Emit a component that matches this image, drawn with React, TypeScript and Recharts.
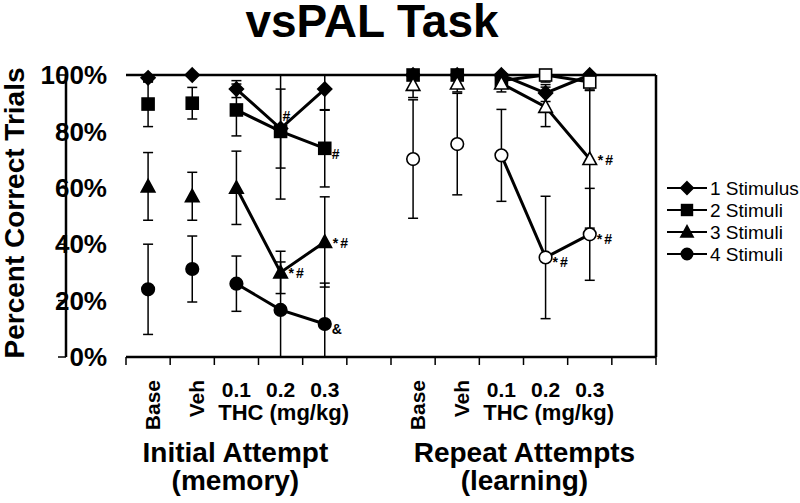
import React from 'react';
import { LineChart, Line, XAxis, YAxis, ErrorBar, LabelList, ReferenceLine } from 'recharts';

const FONT = '"Liberation Sans", Arial, Helvetica, sans-serif';

// ---------- data ----------
const doses = ['Base', 'Veh', '0.1', '0.2', '0.3'];
const doseAxisTitle = 'THC (mg/kg)';
const groupTitles = [
  ['Initial Attempt', '(memory)'],
  ['Repeat Attempts', '(learning)'],
];
const seriesNames = ['1 Stimulus', '2 Stimuli', '3 Stimuli', '4 Stimuli'];
const yTicks = [0, 20, 40, 60, 80, 100];
const xBoundaries = [0, 1, 2, 3, 4, 5, 6, 7, 8, 9, 10, 11, 12];

// Initial attempt (memory): mean % correct and error
const initial1 = [99, 100, 95, 81, 95];
const initial1Err = [1.5, 0, 3, 14, 7.5];
const initial2 = [89.7, 90, 87.6, 80, 74];
const initial2Err = [8, 5.6, 9.2, 24, 13.7];
const initial3 = [60.5, 57, 60, 30, 40.8];
const initial3Err = [12, 8.5, 13, 7.5, 16];
const initial4 = [24, 31.2, 26, 16.7, 11.7];
const initial4Err = [16, 11.7, 9.8, 17, 14.5];

// Repeat attempts (learning)
const repeat1 = [100, 100, 100, 93.6, 100];
const repeat1Err = [0, 0, 0, 3, 0];
const repeat2 = [100, 100, 98, 100, 97.5];
const repeat2Err = [0, 0, 1.5, 2.5, 3];
const repeat3 = [96.5, 97, 97, 88.7, 70.2];
const repeat3Err = [4.5, 3, 3, 7, 24.5];
const repeat4 = [70.2, 75.5, 71.5, 35.3, 43.5];
const repeat4Err = [21, 18, 16.3, 21.7, 16.3];

// significance notes
const initialNotes = [
  ['', '', '', '#', ''],
  ['', '', '', '', '#'],
  ['', '', '', '*#', '*#'],
  ['', '', '', '', '&'],
];
const repeatNotes = [
  ['', '', '', '', ''],
  ['', '', '', '', ''],
  ['', '', '', '', '*#'],
  ['', '', '', '*#', '*#'],
];

const initialMeans = [initial1, initial2, initial3, initial4];
const initialErrs = [initial1Err, initial2Err, initial3Err, initial4Err];
const repeatMeans = [repeat1, repeat2, repeat3, repeat4];
const repeatErrs = [repeat1Err, repeat2Err, repeat3Err, repeat4Err];

const shapes = ['diamond', 'square', 'triangle', 'circle'];
const Y_MIN = 0;
const Y_MAX = 100;

// layout constants
const Y_AXIS_WIDTH = 126;
const Y_TICK_LEN = 8;
const Y_TICK_GAP = 11;

// build rows: 12 slots (5 doses + gap) x 2 groups
const rows: any[] = [];
for (let i = 0; i < 12; i++) {
  const g = i < 6 ? 0 : 1;
  const j = i % 6;
  const row: any = { x: i + 0.5, group: g, dose: j };
  if (j < doses.length) {
    const means = g === 0 ? initialMeans : repeatMeans;
    const errs = g === 0 ? initialErrs : repeatErrs;
    const notes = g === 0 ? initialNotes : repeatNotes;
    for (let k = 0; k < 4; k++) {
      const m = means[k][j];
      const e = errs[k][j];
      row[`s${k}`] = m;
      // error bars are cut at the plot frame (0% .. 100%)
      row[`e${k}`] = [Math.min(e, m - Y_MIN), Math.min(e, Y_MAX - m)];
      row[`c${k}`] = j >= 2 ? m : null;
      row[`n${k}`] = notes[k][j];
    }
  }
  rows.push(row);
}

// ---------- marks ----------
function Marker({ shape, cx, cy, filled, s = 1 }: any) {
  const fill = filled ? '#000' : '#fff';
  const sw = 1.6;
  if (shape === 'diamond') {
    const h = 7 * s;
    return <polygon points={`${cx},${cy - h} ${cx + h},${cy} ${cx},${cy + h} ${cx - h},${cy}`} fill={fill} stroke="#000" strokeWidth={sw} />;
  }
  if (shape === 'square') {
    const h = 6 * s;
    return <rect x={cx - h} y={cy - h} width={2 * h} height={2 * h} fill={fill} stroke="#000" strokeWidth={sw} />;
  }
  if (shape === 'triangle') {
    const w = 6.8 * s;
    const up = 7 * s;
    const dn = 5.5 * s;
    return <polygon points={`${cx},${cy - up} ${cx + w},${cy + dn} ${cx - w},${cy + dn}`} fill={fill} stroke="#000" strokeWidth={sw} />;
  }
  return <circle cx={cx} cy={cy} r={6.3 * s} fill={fill} stroke="#000" strokeWidth={sw} />;
}

const makeDot = (k: number) => (props: any) => {
  const { cx, cy, payload, index } = props;
  if (cx == null || cy == null || payload == null || payload[`s${k}`] == null) return <g key={`d${k}-${index}`} />;
  const shape = shapes[k];
  let filled = payload.group === 0;
  if (shape === 'diamond') filled = true;
  if (shape === 'square' && payload.group === 1 && payload.dose < 3) filled = true;
  return (
    <g key={`d${k}-${index}`}>
      <Marker shape={shape} cx={cx} cy={cy} filled={filled} />
    </g>
  );
};

const noteOffsets = [
  [2, -8],
  [7, 11],
  [8, 6],
  [7, 10],
];

const makeNote = (k: number) => (props: any) => {
  const { x, y, value, index } = props;
  if (!value || x == null || y == null) return <g key={`n${k}-${index}`} />;
  return (
    <text key={`n${k}-${index}`} x={x + noteOffsets[k][0]} y={y + noteOffsets[k][1]} fontFamily={FONT} fontWeight="bold" fontSize={14} letterSpacing={value.length > 1 ? 2 : 0} fill="#000">
      {value}
    </text>
  );
};

const groupShift = [-1, 23];

const DoseTick = (props: any) => {
  const { x, y, payload } = props;
  const i = Math.floor(payload.value);
  const g = i < 6 ? 0 : 1;
  const j = i % 6;
  if (j >= doses.length) return <g />;
  const label = doses[j];
  const common = { fontFamily: FONT, fontWeight: 'bold' as const, fill: '#000' };
  return (
    <g>
      {j < 2 ? (
        <text transform={`translate(${x + 12},${y + 13}) rotate(-90)`} textAnchor="end" fontSize={21} {...common}>
          {label}
        </text>
      ) : (
        <text x={x} y={y + 30} textAnchor="middle" fontSize={21} {...common}>
          {label}
        </text>
      )}
      {j === 3 && (
        <text x={x + 3} y={y + 53} textAnchor="middle" fontSize={22} {...common}>
          {doseAxisTitle}
        </text>
      )}
      {j === 2 && (
        <>
          <text x={x + groupShift[g]} y={y + 95} textAnchor="middle" fontSize={28} {...common}>
            {groupTitles[g][0]}
          </text>
          <text x={x + groupShift[g]} y={y + 123} textAnchor="middle" fontSize={28} {...common}>
            {groupTitles[g][1]}
          </text>
        </>
      )}
    </g>
  );
};

const PercentTick = (props: any) => {
  const { y, payload } = props;
  return (
    <text x={Y_AXIS_WIDTH - Y_TICK_LEN - Y_TICK_GAP} y={y} dy="0.355em" textAnchor="end" fontFamily={FONT} fontWeight="bold" fontSize={26} fill="#000">
      {`${payload.value}%`}
    </text>
  );
};

const YTitle = (props: any) => {
  const vb = props.viewBox || { x: 0, y: 75, width: 126, height: 282 };
  const cy = vb.y + vb.height / 2 - 3;
  return (
    <text transform={`translate(24,${cy}) rotate(-90)`} textAnchor="middle" fontFamily={FONT} fontWeight="bold" fontSize={28} fill="#000">
      Percent Correct Trials
    </text>
  );
};

function LegendBox() {
  return (
    <svg width={140} height={95} style={{ position: 'absolute', left: 660, top: 176 }}>
      {seriesNames.map((name, k) => {
        const cy = 12 + 22 * k;
        return (
          <g key={name}>
            <line x1={7} y1={cy} x2={47} y2={cy} stroke="#000" strokeWidth={2} />
            <Marker shape={shapes[k]} cx={27} cy={cy} filled s={0.9} />
            <text x={50} y={cy + 6.5} fontFamily={FONT} fontSize={19} fill="#000">
              {name}
            </text>
          </g>
        );
      })}
    </svg>
  );
}

export default function App() {
  return (
    <div style={{ position: 'absolute', left: 0, top: 0, width: 800, height: 503, background: '#fff' }}>
      <svg width={800} height={60} style={{ position: 'absolute', left: 0, top: 0 }}>
        <text x={372} y={37} textAnchor="middle" fontFamily={FONT} fontWeight="bold" fontSize={46} fill="#000">
          vsPAL Task
        </text>
      </svg>
      <LineChart width={800} height={503} data={rows} margin={{ top: 75, right: 144, bottom: 0, left: 0 }}>
        <XAxis
          xAxisId="b"
          type="number"
          dataKey="x"
          domain={[0, 12]}
          ticks={xBoundaries}
          interval={0}
          tickFormatter={() => ''}
          tickSize={8}
          height={10}
          axisLine={{ stroke: '#000', strokeWidth: 2.5 }}
          tickLine={{ stroke: '#000', strokeWidth: 1.5 }}
        />
        <XAxis
          xAxisId="lbl"
          type="number"
          dataKey="x"
          domain={[0, 12]}
          ticks={rows.map((r) => r.x)}
          interval={0}
          axisLine={false}
          tickLine={false}
          tickSize={0}
          tickMargin={0}
          height={136}
          tick={DoseTick}
        />
        <YAxis
          yAxisId="main"
          type="number"
          domain={[Y_MIN, Y_MAX]}
          allowDataOverflow
          ticks={yTicks}
          interval={0}
          width={Y_AXIS_WIDTH}
          tickSize={Y_TICK_LEN}
          tickMargin={Y_TICK_GAP}
          tick={PercentTick}
          axisLine={{ stroke: '#000', strokeWidth: 2.5 }}
          tickLine={{ stroke: '#000', strokeWidth: 1.5 }}
          label={<YTitle />}
        />
        <YAxis yAxisId="dots" type="number" domain={[Y_MIN, Y_MAX]} hide />
        <ReferenceLine xAxisId="b" yAxisId="main" y={100} stroke="#000" strokeWidth={2.5} />
        <ReferenceLine xAxisId="b" yAxisId="main" x={12} stroke="#000" strokeWidth={2.5} />

        {[0, 1, 2, 3].map((k) => (
          <Line
            key={`err${k}`}
            xAxisId="b"
            yAxisId="main"
            dataKey={`s${k}`}
            stroke="none"
            dot={false}
            activeDot={false}
            legendType="none"
            isAnimationActive={false}
          >
            <ErrorBar dataKey={`e${k}`} width={5} stroke="#000" strokeWidth={1.5} direction="y" />
          </Line>
        ))}
        {[0, 1, 2, 3].map((k) => (
          <Line
            key={`con${k}`}
            xAxisId="b"
            yAxisId="dots"
            dataKey={`c${k}`}
            stroke="#000"
            strokeWidth={3}
            dot={false}
            activeDot={false}
            connectNulls={false}
            isAnimationActive={false}
          />
        ))}
        {[0, 1, 2, 3].map((k) => (
          <Line
            key={`mk${k}`}
            xAxisId="b"
            yAxisId="dots"
            dataKey={`s${k}`}
            name={seriesNames[k]}
            stroke="none"
            dot={makeDot(k)}
            activeDot={false}
            isAnimationActive={false}
          >
            <LabelList dataKey={`n${k}`} content={makeNote(k)} />
          </Line>
        ))}
      </LineChart>
      <LegendBox />
    </div>
  );
}
